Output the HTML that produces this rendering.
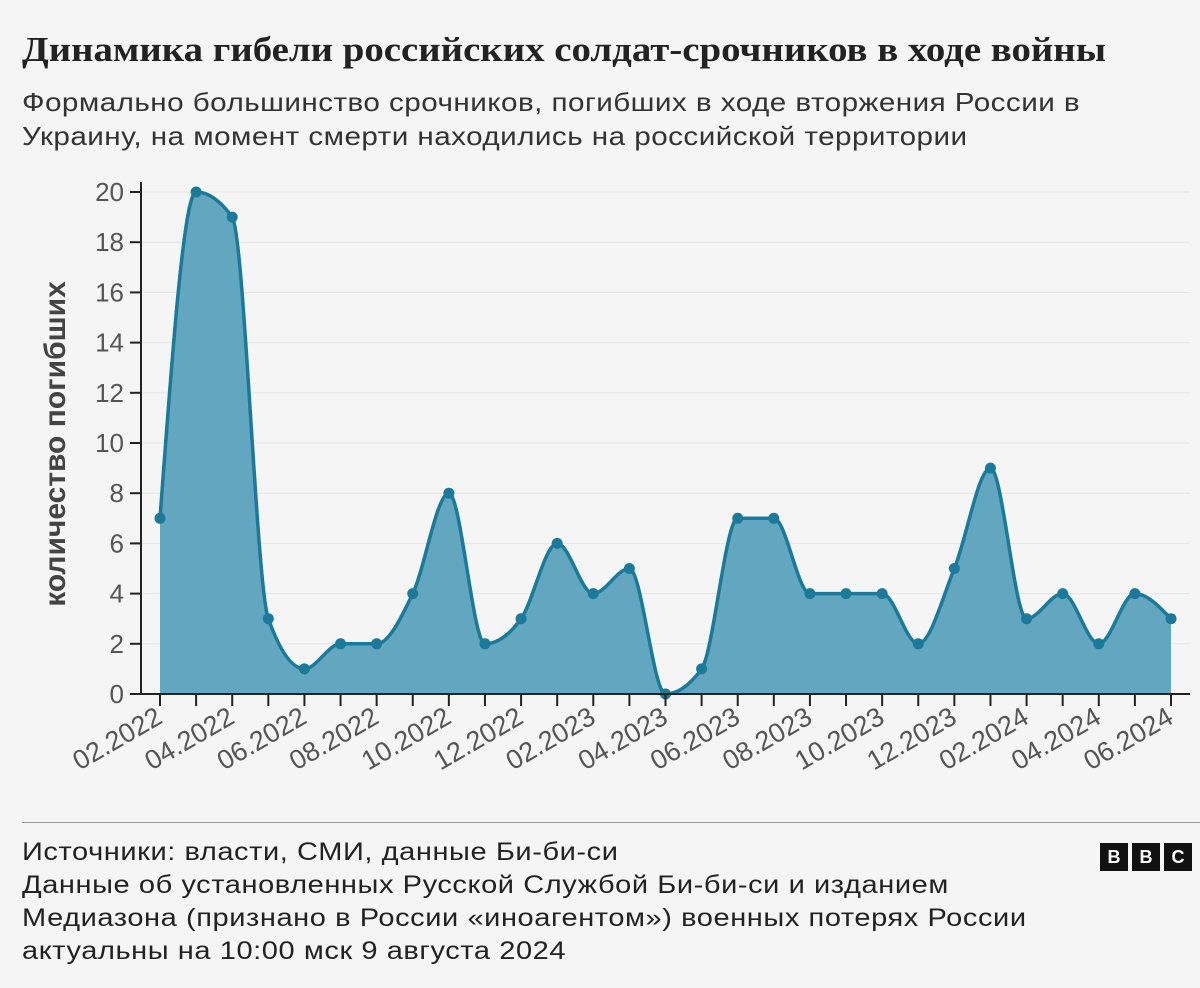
<!DOCTYPE html>
<html><head><meta charset="utf-8"><style>
body{margin:0;background:#f5f5f5;width:1200px;height:988px;overflow:hidden;font-family:"Liberation Sans",sans-serif;color:#222}
.t{position:absolute;left:22px;margin:0;white-space:nowrap;transform-origin:0 0}
</style></head><body>
<h1 class="t" style="top:30px;font-family:'Liberation Serif',serif;font-weight:bold;font-size:35px;color:#222;transform:scaleX(1.11)">Динамика гибели российских солдат-срочников в ходе войны</h1>
<p class="t" style="top:85px;font-size:26px;line-height:34px;color:#333;letter-spacing:0.4px;transform:scaleX(1.14)">Формально большинство срочников, погибших в ходе вторжения России в<br>Украину, на момент смерти находились на российской территории</p>
<svg id="c" width="1200" height="988" style="position:absolute;left:0;top:0"></svg>
<div style="position:absolute;left:22px;top:822px;width:1178px;height:1px;background:#999"></div>
<p class="t" style="top:836px;font-size:25px;line-height:33px;color:#222;letter-spacing:0.5px;transform:scaleX(1.16)">Источники: власти, СМИ, данные Би-би-си<br>Данные об установленных Русской Службой Би-би-си и изданием<br>Медиазона (признано в России «иноагентом») военных потерях России<br>актуальны на 10:00 мск 9 августа 2024</p>
<div style="position:absolute;left:1100px;top:843px;display:flex;gap:4px">
<span style="width:28px;height:28px;background:#111;color:#fff;font-weight:bold;font-size:18px;display:flex;align-items:center;justify-content:center">B</span>
<span style="width:28px;height:28px;background:#111;color:#fff;font-weight:bold;font-size:18px;display:flex;align-items:center;justify-content:center">B</span>
<span style="width:28px;height:28px;background:#111;color:#fff;font-weight:bold;font-size:18px;display:flex;align-items:center;justify-content:center">C</span>
</div>
<script>
const months=["02.2022","03.2022","04.2022","05.2022","06.2022","07.2022","08.2022","09.2022","10.2022","11.2022","12.2022","01.2023","02.2023","03.2023","04.2023","05.2023","06.2023","07.2023","08.2023","09.2023","10.2023","11.2023","12.2023","01.2024","02.2024","03.2024","04.2024","05.2024","06.2024"];
const deaths=[7,20,19,3,1,2,2,4,8,2,3,6,4,5,0,1,7,7,4,4,4,2,5,9,3,4,2,4,3];
const yTicks=[0,2,4,6,8,10,12,14,16,18,20];
const NS="http://www.w3.org/2000/svg",svg=document.getElementById('c');
const x0=160,x1=1171,y0=694,y1=192;
const xs=i=>x0+(x1-x0)*i/(months.length-1);
const ys=v=>y0-(y0-y1)*v/20;
function mk(t,a,p){const e=document.createElementNS(NS,t);for(const k in a)e.setAttribute(k,a[k]);(p||svg).appendChild(e);return e;}
yTicks.forEach(v=>{
 const g=mk('line',{x1:141,x2:1190,y1:ys(v),y2:ys(v),stroke:v?'#e6e6e6':'none','stroke-width':1});
 
 
 mk('line',{x1:130,x2:141,y1:ys(v),y2:ys(v),stroke:'#222','stroke-width':2});
 const t=mk('text',{x:124,y:ys(v)+9,'text-anchor':'end','font-size':26,fill:'#555'});t.textContent=v;
 
 
});
const pts=deaths.map((v,i)=>[xs(i),ys(v)]);
const n=pts.length,h=pts[1][0]-pts[0][0],sl=[],m=[];
for(let i=0;i<n-1;i++)sl.push((pts[i+1][1]-pts[i][1])/h);
for(let i=0;i<n;i++){
 if(i===0){m.push(sl[0]);continue;}
 if(i===n-1){m.push(sl[n-2]);continue;}
 const a=sl[i-1],b=sl[i];
 if(a*b<=0)m.push(0);else{const p=(a+b)/2;m.push((Math.sign(a)+Math.sign(b))*Math.min(Math.abs(a),Math.abs(b),0.5*Math.abs(p)));}
}
m[0]=(3*sl[0]-m[1])/2;m[n-1]=(3*sl[n-2]-m[n-2])/2;
let d='M'+pts[0][0]+','+pts[0][1];
for(let i=0;i<n-1;i++){const dx=h/3;
 d+=` C${pts[i][0]+dx},${pts[i][1]+m[i]*dx} ${pts[i+1][0]-dx},${pts[i+1][1]-m[i+1]*dx} ${pts[i+1][0]},${pts[i+1][1]}`;}
const area=mk('path',{d:d+` L${x1},${y0} L${x0},${y0} Z`,fill:'#62a6bf'});


const line=mk('path',{d:d,fill:'none',stroke:'#1b7a9a','stroke-width':3.5});


pts.forEach((p,i)=>{const c=mk('circle',{cx:p[0],cy:p[1],r:5.5,fill:'#1b7a9a'});
 
 });
mk('line',{x1:141,x2:141,y1:182,y2:695,stroke:'#222','stroke-width':2});
mk('line',{x1:130,x2:1190,y1:694,y2:694,stroke:'#222','stroke-width':2});
months.forEach((m,i)=>{const x=xs(i);mk('line',{x1:x,x2:x,y1:694,y2:706,stroke:'#222','stroke-width':2});
 if(i%2===0){const t=mk('text',{x:x+4,y:722,'text-anchor':'end','font-size':27,fill:'#555',transform:`rotate(-30 ${x+4} 722)`});t.textContent=m;
 
 }});
const yt=mk('text',{x:65,y:444,'text-anchor':'middle','font-size':30,'font-weight':'bold',fill:'#444',transform:'rotate(-90 65 444)'});
yt.textContent='количество погибших';


</script>
</body></html>
